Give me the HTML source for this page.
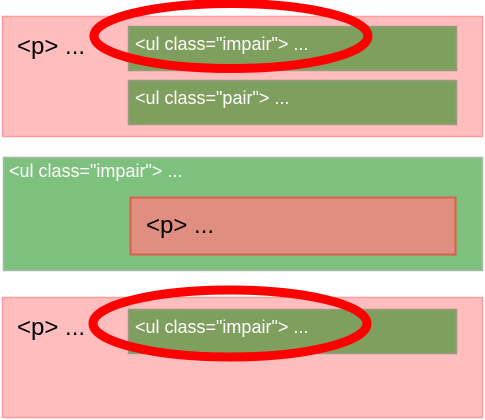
<!DOCTYPE html>
<html><head><meta charset="utf-8"><style>
html,body{margin:0;padding:0;background:#fff;width:485px;height:420px;overflow:hidden}
</style></head><body>
<svg width="485" height="420" xmlns="http://www.w3.org/2000/svg" font-family="'Liberation Sans',sans-serif">
<!-- box 1 -->
<rect x="2.5" y="16.5" width="480" height="120" fill="#ffbdbd" stroke="#ff9d9d" stroke-width="1.5"/>
<text x="17" y="54" font-size="24" fill="#000">&lt;p&gt; ...</text>
<rect x="128.5" y="26.5" width="328" height="44" fill="#7f9f5f" stroke="#9a9a80" stroke-width="1.5"/>
<text x="135" y="50" font-size="18" fill="#fff">&lt;ul class="impair"&gt; ...</text>
<rect x="128.5" y="80.5" width="328" height="44" fill="#7f9f5f" stroke="#9a9a80" stroke-width="1.5"/>
<text x="135" y="104" font-size="18" fill="#fff">&lt;ul class="pair"&gt; ...</text>
<ellipse cx="231" cy="36" rx="137" ry="32.5" fill="none" stroke="#ff0000" stroke-width="9"/>
<!-- box 2 -->
<rect x="3.5" y="157.5" width="479" height="113" fill="#7ec17e" stroke="#aab8aa" stroke-width="1.5"/>
<text x="9" y="177" font-size="18" fill="#fff">&lt;ul class="impair"&gt; ...</text>
<rect x="130.5" y="197.5" width="325" height="57" fill="#df8e80" stroke="#d9604f" stroke-width="2"/>
<text x="146" y="233" font-size="24" fill="#000">&lt;p&gt; ...</text>
<!-- box 3 -->
<rect x="2.5" y="297.5" width="480" height="120" fill="#ffbdbd" stroke="#ff9d9d" stroke-width="1.5"/>
<text x="17" y="335" font-size="24" fill="#000">&lt;p&gt; ...</text>
<rect x="128.5" y="309.5" width="328" height="44" fill="#7f9f5f" stroke="#9a9a80" stroke-width="1.5"/>
<text x="135" y="333" font-size="18" fill="#fff">&lt;ul class="impair"&gt; ...</text>
<ellipse cx="230" cy="323.5" rx="137" ry="33.5" fill="none" stroke="#ff0000" stroke-width="9"/>
</svg>
</body></html>
